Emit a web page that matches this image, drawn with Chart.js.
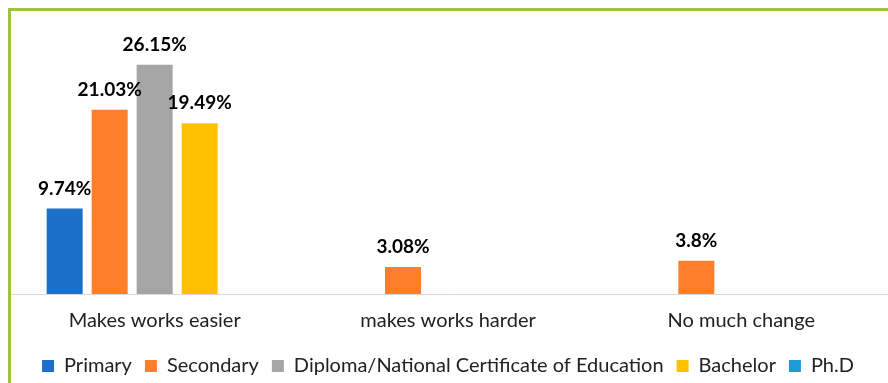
<!DOCTYPE html>
<html>
<head>
<meta charset="utf-8">
<script src="https://cdn.jsdelivr.net/npm/chart.js@4.4.0/dist/chart.umd.min.js"></script>
<style>
  html, body { margin: 0; padding: 0; background: #ffffff; overflow: hidden; }
  #wrap { position: relative; width: 888px; height: 383px; }
  #frame { position: absolute; left: 8px; top: 8px; width: 900px; height: 400px;
           border-left: 3px solid #9BC63B; border-top: 3px solid #9BC63B; pointer-events: none; }
  canvas { position: absolute; left: 0; top: 0; }
</style>
</head>
<body>
<div id="wrap">
  <canvas id="c" width="888" height="383"></canvas>
  <div id="frame"></div>
</div>
<script>
const categories = ["Makes works easier", "makes works harder", "No much change"];
const seriesNames = ["Primary", "Secondary", "Diploma/National Certificate of Education", "Bachelor", "Ph.D"];
const primary   = [9.74, 0, 0];
const secondary = [21.03, 3.08, 3.8];
const diploma   = [26.15, 0, 0];
const bachelor  = [19.49, 0, 0];
const phd       = [0, 0, 0];
const seriesColors = ["#1C70C8", "#FE7F2A", "#A5A5A5", "#FFC000", "#1F9BD7"];

const seriesValues = [primary, secondary, diploma, bachelor, phd];

const valueLabels = {
  id: 'valueLabels',
  afterDatasetsDraw(chart) {
    const ctx = chart.ctx;
    ctx.save();
    ctx.font = 'bold 19px Lato';
    ctx.fillStyle = '#000000';
    ctx.textAlign = 'center';
    ctx.textBaseline = 'alphabetic';
    chart.data.datasets.forEach((ds, di) => {
      const meta = chart.getDatasetMeta(di);
      meta.data.forEach((bar, i) => {
        const v = ds.data[i];
        if (v > 0) {
          ctx.fillText(v + '%', bar.x, bar.y - 14);
        }
      });
    });
    ctx.restore();
  }
};

new Chart(document.getElementById('c'), {
  type: 'bar',
  data: {
    labels: categories,
    datasets: seriesNames.map((n, i) => ({
      label: n,
      data: seriesValues[i],
      backgroundColor: seriesColors[i],
      borderWidth: 0,
      categoryPercentage: 0.767,
      barPercentage: 0.8
    }))
  },
  options: {
    responsive: false,
    animation: false,
    devicePixelRatio: 1,
    layout: { padding: { left: 8, right: 0, top: 31, bottom: -3 } },
    plugins: {
      legend: {
        position: 'bottom',
        labels: {
          boxWidth: 12, boxHeight: 12, padding: 13,
          color: '#222222',
          font: { family: 'Lato', size: 20 }
        }
      },
      tooltip: { enabled: false }
    },
    scales: {
      x: {
        grid: { display: false, drawTicks: false },
        border: { display: true, color: '#D9D9D9', width: 1 },
        ticks: { color: '#222222', padding: 15, font: { family: 'Lato', size: 20 } },
        afterFit(scale) { scale.height = 49; }
      },
      y: {
        display: false,
        min: 0, max: 30
      }
    }
  },
  plugins: [valueLabels]
});
</script>
</body>
</html>
